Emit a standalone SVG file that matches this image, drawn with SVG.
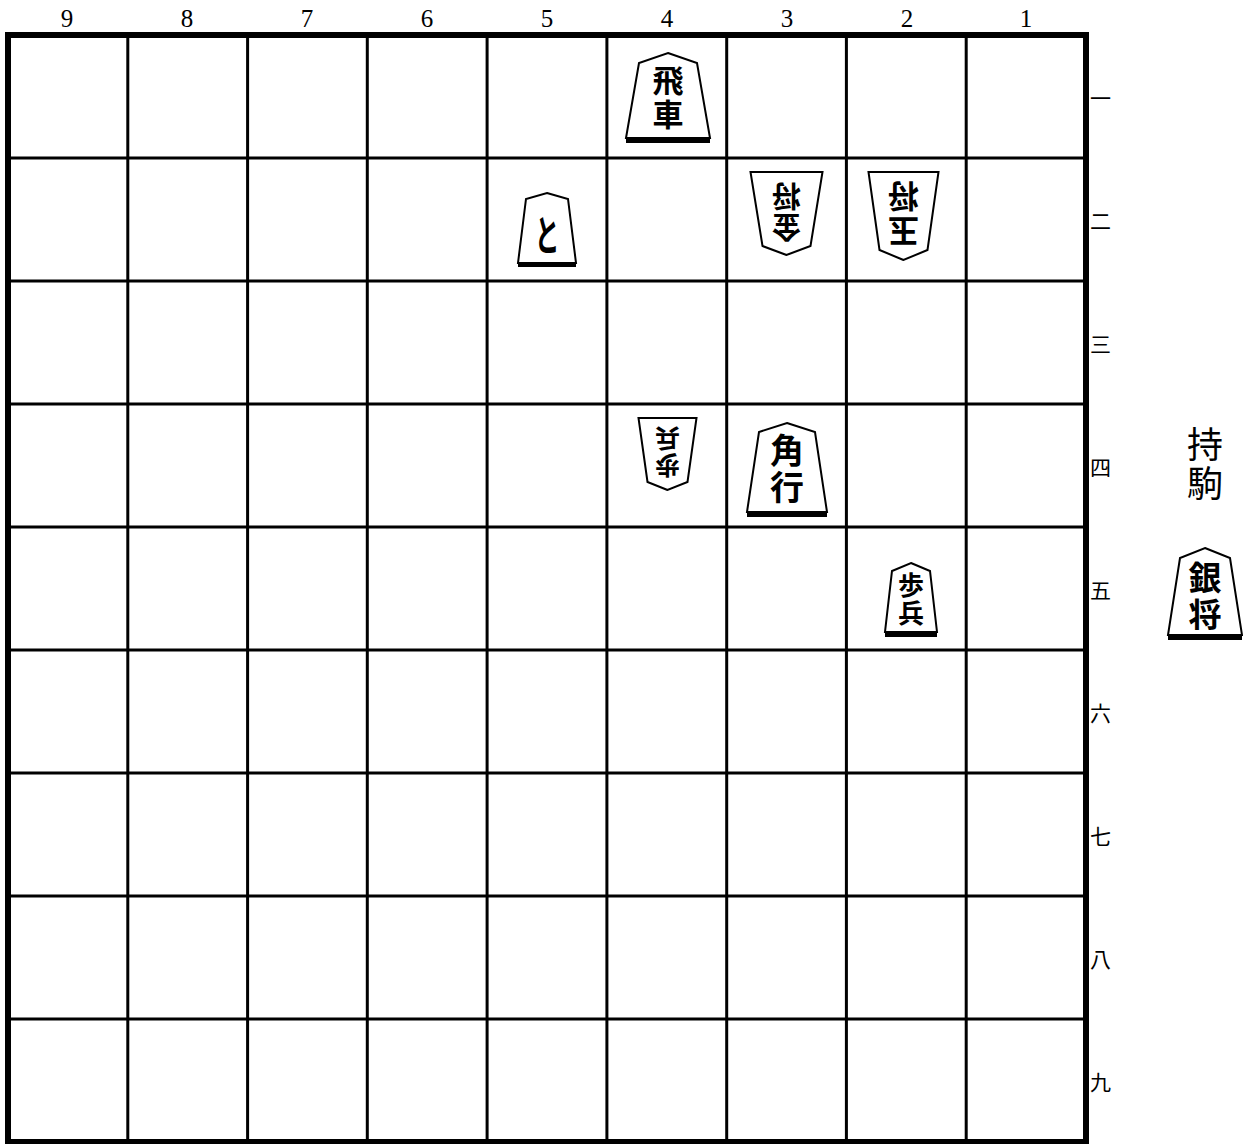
<svg xmlns="http://www.w3.org/2000/svg" width="1243" height="1144" viewBox="0 0 1243 1144">
<style>
.grid{stroke:#000;stroke-width:3;fill:none}
.border{stroke:#000;stroke-width:6;fill:none}
.pc{fill:#fff;stroke:#000;stroke-width:2;stroke-linejoin:miter}
.sh{fill:#000}
.pt{font-family:"Noto Sans CJK JP","Noto Sans CJK SC",sans-serif;font-weight:bold;text-anchor:middle;dominant-baseline:central;fill:#000}
.v{writing-mode:vertical-rl}
.num{font-family:"Liberation Serif",serif;font-size:25px;text-anchor:middle;fill:#000}
.row{font-family:"Noto Sans CJK JP",sans-serif;font-size:21px;dominant-baseline:central;fill:#000}
.hand{font-family:"Noto Sans CJK JP",sans-serif;font-size:36px;text-anchor:middle;dominant-baseline:central;fill:#000}
</style>
<rect width="1243" height="1144" fill="#fff"/>
<g id="board">
<rect class="border" x="8" y="35" width="1078" height="1107"/>
<path class="grid" d="M127.8,35V1142M247.6,35V1142M367.3,35V1142M487.1,35V1142M606.9,35V1142M726.7,35V1142M846.4,35V1142M966.2,35V1142M8,158H1086M8,281H1086M8,404H1086M8,527H1086M8,650H1086M8,773H1086M8,896H1086M8,1019H1086"/>
</g>
<g id="col-labels">
<text class="num" x="67" y="27">9</text>
<text class="num" x="187" y="27">8</text>
<text class="num" x="307" y="27">7</text>
<text class="num" x="427" y="27">6</text>
<text class="num" x="547" y="27">5</text>
<text class="num" x="667" y="27">4</text>
<text class="num" x="787" y="27">3</text>
<text class="num" x="907" y="27">2</text>
<text class="num" x="1026" y="27">1</text>
</g>
<g id="row-labels">
<text class="row" x="1090" y="97">一</text>
<text class="row" x="1090" y="220">二</text>
<text class="row" x="1090" y="343">三</text>
<text class="row" x="1090" y="466">四</text>
<text class="row" x="1090" y="589">五</text>
<text class="row" x="1090" y="712">六</text>
<text class="row" x="1090" y="835">七</text>
<text class="row" x="1090" y="958">八</text>
<text class="row" x="1090" y="1081">九</text>
</g>
<g id="connectors"></g>
<g id="p41-hisha" transform="translate(668,53)">
<path class="pc" d="M0,0L29,10L42,85L-42,85L-29,10Z"/>
<rect class="sh" x="-42" y="85" width="84" height="5"/>
<text class="pt v" x="0" y="46" font-size="31" letter-spacing="3">飛車</text>
</g>
<g id="p52-tokin" transform="translate(547,193)">
<path class="pc" d="M0,0L21,6L29,70L-29,70L-21,6Z"/>
<rect class="sh" x="-29" y="70" width="58" height="4"/>
<text class="pt" transform="translate(0,40) scale(0.65,1.1)" x="0" y="0" font-size="38">と</text>
</g>
<g id="p32-kin-gote" transform="translate(786.5,255) rotate(180)">
<path class="pc" d="M0,0L24,9L36,83L-36,83L-24,9Z"/>
<text class="pt v" x="0" y="44.5" font-size="29" letter-spacing="2">金将</text>
</g>
<g id="p22-gyoku-gote" transform="translate(903.5,260) rotate(180)">
<path class="pc" d="M0,0L24,10L35,88L-35,88L-24,10Z"/>
<text class="pt v" x="0" y="47.5" font-size="31" letter-spacing="4">玉将</text>
</g>
<g id="p44-fu-gote" transform="translate(667.5,490) rotate(180)">
<path class="pc" d="M0,0L20,8L29,72L-29,72L-20,8Z"/>
<text class="pt v" x="0" y="39.5" font-size="25" letter-spacing="2">歩兵</text>
</g>
<g id="p34-kaku" transform="translate(787,423)">
<path class="pc" d="M0,0L28,9L40,89L-40,89L-28,9Z"/>
<rect class="sh" x="-40" y="89" width="80" height="5"/>
<text class="pt v" x="0" y="47" font-size="34" letter-spacing="3">角行</text>
</g>
<g id="p25-fu" transform="translate(911,563)">
<path class="pc" d="M0,0L19,8L26,69L-26,69L-19,8Z"/>
<rect class="sh" x="-26" y="69" width="52" height="5"/>
<text class="pt v" x="0" y="37" font-size="26" letter-spacing="2">歩兵</text>
</g>
<g id="hand">
<text class="hand v" x="1205" y="465" letter-spacing="3">持駒</text>
<g id="hand-gin" transform="translate(1205,548)">
<path class="pc" d="M0,0L25,10L37,87L-37,87L-25,10Z"/>
<rect class="sh" x="-37" y="87" width="74" height="5"/>
<text class="pt v" x="0" y="49.5" font-size="33" letter-spacing="4">銀将</text>
</g>
</g>
</svg>
